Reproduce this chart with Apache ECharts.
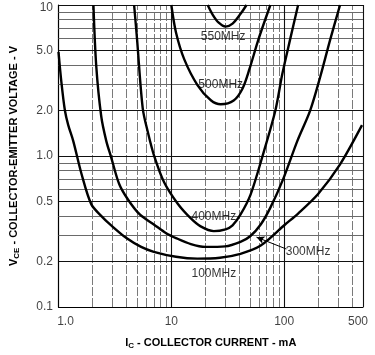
<!DOCTYPE html>
<html>
<head>
<meta charset="utf-8">
<script src="https://cdn.jsdelivr.net/npm/echarts@6/dist/echarts.min.js"></script>
<style>
  html, body { margin: 0; padding: 0; background: #fff; }
  #chart { width: 375px; height: 355px; }
</style>
</head>
<body>
<div id="chart"></div>
<script>
// Constant-fT contours: collector current (mA) vs collector-emitter voltage (V)
const ic100 = [1.0, 1.06, 1.14, 1.22, 1.35, 1.6, 1.95, 2.4, 2.93, 4.0, 5.4, 7.0, 11, 17, 27, 41, 62, 102, 133, 200, 313, 490];
const vce100 = [4.9, 3.1, 2.0, 1.6, 1.26, 0.76, 0.48, 0.4, 0.347, 0.286, 0.25, 0.232, 0.215, 0.209, 0.212, 0.225, 0.255, 0.352, 0.416, 0.56, 0.88, 1.6];

const ic300 = [2.04, 2.16, 2.39, 2.65, 2.93, 3.45, 4.14, 5.25, 7.0, 9.0, 11, 14.9, 20, 30, 41, 50, 62, 75.5, 98, 131, 170, 209, 256, 313];
const vce300 = [10, 3.95, 1.84, 1.26, 0.98, 0.652, 0.513, 0.41, 0.352, 0.308, 0.286, 0.261, 0.25, 0.252, 0.27, 0.294, 0.352, 0.455, 0.703, 1.26, 2.0, 3.35, 5.9, 10];

const ic400 = [4.68, 4.97, 5.58, 6.22, 7.02, 8.61, 11.4, 14.9, 18.2, 23.8, 30.3, 34.9, 41.1, 50.3, 65.6, 83.6, 96.4, 113, 133];
const vce400 = [10, 5.92, 2.07, 1.42, 1.01, 0.672, 0.483, 0.386, 0.342, 0.318, 0.327, 0.347, 0.41, 0.553, 1.05, 2.0, 3.5, 5.92, 10];

const ic500 = [10, 11, 13, 17.1, 22.4, 27.4, 35.7, 42.8, 49.3, 59.2, 75.5];
const vce500 = [10, 6.57, 4.38, 2.94, 2.34, 2.2, 2.33, 2.8, 3.77, 5.92, 10];

const ic550 = [21, 23.3, 26.3, 30.3, 34.9, 41.1, 46.4];
const vce550 = [10, 8.61, 7.63, 7.19, 7.52, 8.74, 10];

// Contour names and where their captions sit (mA, V)
const contourNames = ['550MHz', '500MHz', '400MHz', '300MHz', '100MHz'];
const captionIc = [28.8, 27.4, 23.8, 163, 23.8];
const captionVce = [6.2, 2.95, 0.397, 0.234, 0.166];

// Leader arrow from the 300MHz caption to its curve
const arrowStart = [104.6, 0.242];
const arrowEnd = [56.9, 0.29];

// Axis tick labels
const xTickValues = [1, 10, 100, 500];
const xTickText = ['1.0', '10', '100', '500'];
const yTickValues = [10, 5, 2, 1, 0.5, 0.2, 0.1];
const yTickText = ['10', '5.0', '2.0', '1.0', '0.5', '0.2', '0.1'];

// Log-paper rulings
const xGridMajor = [10, 100, 500];
const xGridMinor = [2, 3, 4, 5, 6, 7, 8, 9, 20, 30, 40, 50, 60, 70, 80, 90, 200, 300, 400];
const yGridMajor = [0.2, 0.5, 1, 2, 5, 10];
const yGridMinor = [0.3, 0.4, 0.6, 0.7, 0.8, 0.9, 3, 4, 6, 7, 8, 9];

const zip = (xs, ys) => xs.map((x, i) => [x, ys[i]]);

const curveStyle = { color: '#000', width: 2.4 };
function contour(name, xs, ys) {
  return {
    name: name,
    type: 'line',
    data: zip(xs, ys),
    smooth: 0.3,
    symbol: 'none',
    lineStyle: curveStyle,
    silent: true,
    z: 5
  };
}

const majorLine = { color: '#111', width: 1.1, type: 'solid' };
const minorH = { color: '#6a6a6a', width: 1, type: 'solid' };
const minorV = { color: '#7a7a7a', width: 1, type: [9, 2] };

const gridLines = []
  .concat(xGridMinor.map(v => ({ xAxis: v, lineStyle: minorV })))
  .concat(yGridMinor.map(v => ({ yAxis: v, lineStyle: minorH })))
  .concat(xGridMajor.map(v => ({ xAxis: v, lineStyle: majorLine })))
  .concat(yGridMajor.map(v => ({ yAxis: v, lineStyle: majorLine })));

const labelFont = '"Liberation Sans Narrow", "Liberation Sans", Arial, sans-serif';
const axisFont = '"Liberation Sans", Arial, sans-serif';

const chart = echarts.init(document.getElementById('chart'), null, { renderer: 'canvas' });

chart.setOption({
  animation: false,
  backgroundColor: '#fff',
  grid: { left: 57, right: 12, top: 5, bottom: 43 },
  xAxis: {
    type: 'log',
    logBase: 10,
    min: 1,
    max: 500,
    axisLabel: { show: false },
    axisTick: { show: false },
    splitLine: { show: false },
    minorSplitLine: { show: false },
    axisLine: { lineStyle: { color: '#000', width: 1.2 } },
    name: '{b|I}{s|C}{b| - COLLECTOR CURRENT - mA}',
    nameLocation: 'middle',
    nameGap: 29,
    nameTextStyle: {
      rich: {
        b: { fontFamily: axisFont, fontSize: 11, fontWeight: 'bold', color: '#000', lineHeight: 14, verticalAlign: 'middle' },
        s: { fontFamily: axisFont, fontSize: 8, fontWeight: 'bold', color: '#000', lineHeight: 14, verticalAlign: 'bottom' }
      }
    }
  },
  yAxis: {
    type: 'log',
    logBase: 10,
    min: 0.1,
    max: 10,
    axisLabel: { show: false },
    axisTick: { show: false },
    splitLine: { show: false },
    minorSplitLine: { show: false },
    axisLine: { lineStyle: { color: '#000', width: 1.2 } },
    name: '{b|V}{s|CE}{b| - COLLECTOR-EMITTER VOLTAGE - V}',
    nameLocation: 'middle',
    nameRotate: 90,
    nameGap: 38,
    nameTextStyle: {
      rich: {
        b: { fontFamily: axisFont, fontSize: 11, fontWeight: 'bold', color: '#000', lineHeight: 14, verticalAlign: 'middle' },
        s: { fontFamily: axisFont, fontSize: 8, fontWeight: 'bold', color: '#000', lineHeight: 14, verticalAlign: 'bottom' }
      }
    }
  },
  series: [
    {
      name: 'rulings',
      type: 'line',
      data: [],
      silent: true,
      z: 1,
      markLine: {
        silent: true,
        symbol: 'none',
        animation: false,
        label: { show: false },
        data: gridLines
      }
    },
    contour('550MHz', ic550, vce550),
    contour('500MHz', ic500, vce500),
    contour('400MHz', ic400, vce400),
    contour('300MHz', ic300, vce300),
    contour('100MHz', ic100, vce100),
    {
      name: 'captions',
      type: 'scatter',
      symbolSize: 1,
      itemStyle: { color: 'rgba(0,0,0,0)' },
      silent: true,
      clip: false,
      z: 6,
      data: contourNames.map((n, i) => ({ value: [captionIc[i], captionVce[i]], name: n })),
      label: {
        show: true,
        position: 'inside',
        formatter: p => p.name,
        fontFamily: labelFont,
        fontSize: 12,
        color: '#000'
      },
      markLine: {
        silent: true,
        animation: false,
        symbol: ['none', 'arrow'],
        symbolSize: [6, 8],
        label: { show: false },
        lineStyle: { color: '#000', width: 1, type: 'solid' },
        data: [[{ coord: arrowStart }, { coord: arrowEnd }]]
      }
    },
    {
      name: 'x ticks',
      type: 'scatter',
      symbolSize: 1,
      itemStyle: { color: 'rgba(0,0,0,0)' },
      silent: true,
      clip: false,
      data: xTickValues.map((v, i) => {
        const item = { value: [v, yTickValues[yTickValues.length - 1]], name: xTickText[i] };
        if (i === 0) item.label = { offset: [7, 0] };
        if (i === xTickValues.length - 1) item.label = { offset: [-5, 0] };
        return item;
      }),
      label: {
        show: true,
        position: 'bottom',
        distance: 8,
        formatter: p => p.name,
        fontFamily: axisFont,
        fontSize: 12,
        color: '#111'
      }
    },
    {
      name: 'y ticks',
      type: 'scatter',
      symbolSize: 1,
      itemStyle: { color: 'rgba(0,0,0,0)' },
      silent: true,
      clip: false,
      data: yTickValues.map((v, i) => {
        const item = { value: [xTickValues[0], v], name: yTickText[i] };
        if (i === 0) item.label = { offset: [0, 3] };
        return item;
      }),
      label: {
        show: true,
        position: 'left',
        distance: 5,
        formatter: p => p.name,
        fontFamily: axisFont,
        fontSize: 12,
        color: '#111'
      }
    }
  ]
});
</script>
</body>
</html>
